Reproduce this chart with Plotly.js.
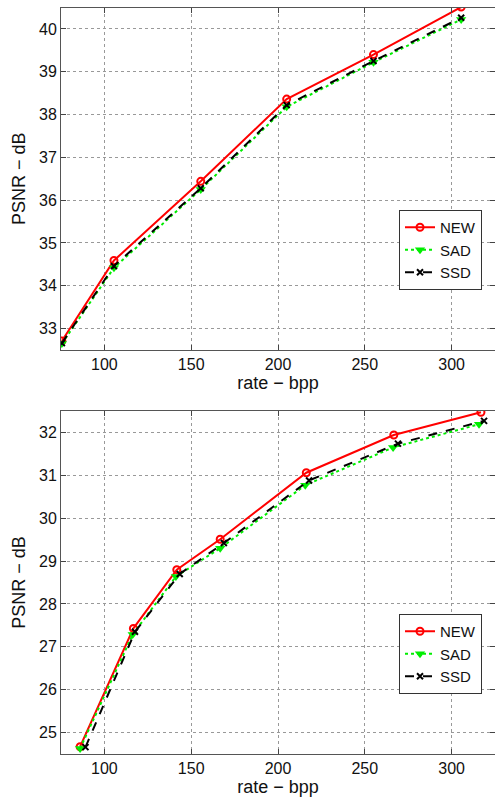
<!DOCTYPE html>
<html>
<head>
<meta charset="utf-8">
<script src="https://cdn.plot.ly/plotly-3.0.1.min.js"></script>
<style>html,body{margin:0;padding:0;background:#fff;}#chart{width:495px;height:802px;}</style>
</head>
<body>
<div id="chart"></div>
<script>
// Top panel
const topRate = [75.5, 105.5, 155.5, 205, 255, 305.5];
const topNEW = [32.71, 34.59, 36.44, 38.36, 39.40, 40.51];
const topSAD = [32.65, 34.42, 36.25, 38.18, 39.22, 40.22];
const topSSD = [32.66, 34.46, 36.28, 38.22, 39.25, 40.26];

// Bottom panel
const botRateNEW = [86, 116.7, 141.7, 166.7, 216.3, 266.7, 316.9];
const botNEW = [24.67, 27.43, 28.80, 29.51, 31.06, 31.94, 32.47];
const botRateSAD = [86, 116.3, 141.2, 166.7, 215.7, 266.3, 315.8];
const botSAD = [24.63, 27.29, 28.64, 29.30, 30.77, 31.65, 32.19];
const botRateSSD = [89.1, 117.6, 143.4, 168.8, 217.9, 269.1, 318.7];
const botSSD = [24.66, 27.35, 28.70, 29.42, 30.88, 31.74, 32.27];

const seriesNames = ['NEW', 'SAD', 'SSD'];
const xTitle = 'rate \u2212 bpp';
const yTitle = 'PSNR \u2212 dB';
const xTicks = [100, 150, 200, 250, 300];
const yTicksTop = [33, 34, 35, 36, 37, 38, 39, 40];
const yTicksBot = [25, 26, 27, 28, 29, 30, 31, 32];

const styles = [
  {line: {color: '#ff0000', width: 2, dash: 'solid'}, marker: {symbol: 'circle-open', size: 7, color: '#ff0000', line: {width: 2, color: '#ff0000'}}},
  {line: {color: '#00ee00', width: 2, dash: 'dot'}, marker: {symbol: 'triangle-down', size: 9, color: '#00ee00'}},
  {line: {color: '#000000', width: 2, dash: 'dash'}, marker: {symbol: 'x-thin-open', size: 6, color: '#000000', line: {width: 2, color: '#000000'}}}
];

function tr(x, y, i, ax) {
  return {x: x, y: y, name: seriesNames[i], type: 'scatter', mode: 'lines+markers',
    xaxis: ax[0], yaxis: ax[1], line: styles[i].line, marker: styles[i].marker,
    showlegend: true, legend: ax[0] === 'x' ? 'legend' : 'legend2'};
}

const data = [
  tr(topRate, topNEW, 0, ['x', 'y']),
  tr(topRate, topSAD, 1, ['x', 'y']),
  tr(topRate, topSSD, 2, ['x', 'y']),
  tr(botRateNEW, botNEW, 0, ['x2', 'y2']),
  tr(botRateSAD, botSAD, 1, ['x2', 'y2']),
  tr(botRateSSD, botSSD, 2, ['x2', 'y2'])
];

const fontFam = 'Liberation Sans, Arial, Helvetica, sans-serif';
function common() {
  return {ticks: 'inside', ticklen: 5, tickcolor: '#444', mirror: 'allticks', showline: true,
    linecolor: '#555', linewidth: 1, showgrid: true, gridcolor: '#999', griddash: 'dot',
    gridwidth: 1, zeroline: false, tickfont: {size: 16, color: '#111', family: fontFam}};
}
function xa(anchor) {
  return Object.assign(common(), {anchor: anchor, range: [75, 325], tickvals: xTicks, domain: [0, 1],
    title: {text: xTitle, font: {size: 18, color: '#111', family: fontFam}, standoff: 4}});
}
function ya(anchor, range, vals) {
  return Object.assign(common(), {anchor: anchor, range: range, tickvals: vals,
    title: {text: yTitle, font: {size: 18, color: '#111', family: fontFam}, standoff: 8}});
}

const H = 802;
const legendBase = {xanchor: 'left', yanchor: 'top', bgcolor: '#fff', bordercolor: '#333', borderwidth: 1,
  font: {size: 15, color: '#111', family: fontFam}, tracegroupgap: 0, itemwidth: 30};
const layout = {
  width: 495, height: 802,
  margin: {l: 61, r: 0, t: 0, b: 0},
  paper_bgcolor: '#fff', plot_bgcolor: '#fff',
  font: {family: fontFam},
  xaxis: xa('y'),
  yaxis: Object.assign(ya('x', [32.5, 40.5], yTicksTop), {domain: [(H - 350) / H, (H - 7.5) / H]}),
  xaxis2: xa('y2'),
  yaxis2: Object.assign(ya('x2', [24.5, 32.5], yTicksBot), {domain: [(H - 754) / H, (H - 411) / H]}),
  legend: Object.assign({x: (399 - 61) / 434, y: (H - 210) / H}, legendBase),
  legend2: Object.assign({x: (399 - 61) / 434, y: (H - 614) / H}, legendBase),
  showlegend: true
};

Plotly.newPlot('chart', data, layout, {staticPlot: true, displayModeBar: false});
</script>
</body>
</html>
